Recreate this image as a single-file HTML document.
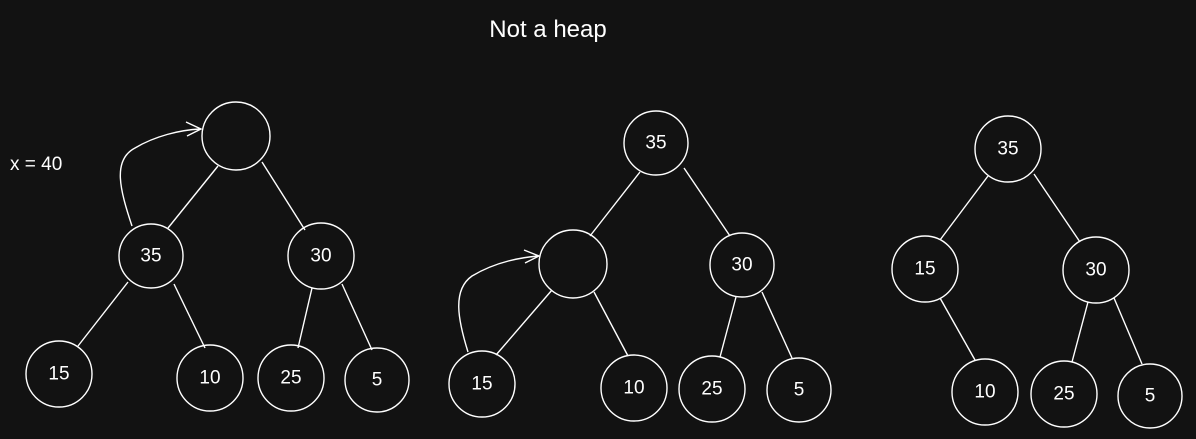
<!DOCTYPE html>
<html><head><meta charset="utf-8"><style>
html,body{margin:0;padding:0;background:#121212;}
svg{display:block}
text{font-family:"Liberation Sans",sans-serif;fill:#fff;}
</style></head><body>
<svg width="1196" height="439" viewBox="0 0 1196 439" xmlns="http://www.w3.org/2000/svg">
<rect width="1196" height="439" fill="#121212"/>
<g stroke="#fff" stroke-width="1.4" fill="none">
<!-- tree 1 edges -->
<line x1="218" y1="166" x2="168" y2="228"/>
<line x1="262" y1="162" x2="305" y2="230"/>
<line x1="128" y1="282" x2="78" y2="346"/>
<line x1="174" y1="284" x2="205" y2="348"/>
<line x1="312" y1="288" x2="298" y2="348"/>
<line x1="342" y1="284" x2="372" y2="350"/>
<!-- tree 1 nodes -->
<circle cx="236" cy="136" r="34"/>
<circle cx="151" cy="256" r="32"/>
<circle cx="321" cy="256" r="33"/>
<circle cx="59" cy="374" r="33"/>
<circle cx="210" cy="378" r="33"/>
<circle cx="291" cy="378" r="33"/>
<circle cx="377" cy="380" r="32"/>
<!-- arrow 1 -->
<path d="M132 226 C120 190 112 160 135 148 C155 136 180 130 200 129"/>
<path d="M186 122 L201 129 L187 136"/>
<!-- tree 2 edges -->
<line x1="640" y1="172" x2="590" y2="236"/>
<line x1="684" y1="168" x2="730" y2="236"/>
<line x1="552" y1="290" x2="496" y2="355"/>
<line x1="594" y1="292" x2="628" y2="356"/>
<line x1="736" y1="297" x2="720" y2="357"/>
<line x1="762" y1="292" x2="792" y2="358"/>
<!-- tree 2 nodes -->
<circle cx="656" cy="143" r="32"/>
<circle cx="573" cy="264" r="34"/>
<circle cx="742" cy="265" r="32"/>
<circle cx="482" cy="384" r="33"/>
<circle cx="634" cy="388" r="33"/>
<circle cx="712" cy="389" r="33"/>
<circle cx="799" cy="390" r="32"/>
<!-- arrow 2 -->
<path d="M468 352 C458 320 452 290 472 276 C492 264 515 258 538 256"/>
<path d="M524 250 L539 256 L525 263"/>
<!-- tree 3 edges -->
<line x1="988" y1="176" x2="940" y2="240"/>
<line x1="1034" y1="174" x2="1080" y2="242"/>
<line x1="940" y1="298" x2="975" y2="360"/>
<line x1="1088" y1="302" x2="1072" y2="362"/>
<line x1="1114" y1="298" x2="1142" y2="364"/>
<!-- tree 3 nodes -->
<circle cx="1008" cy="149" r="33"/>
<circle cx="925" cy="269" r="33"/>
<circle cx="1096" cy="270" r="33"/>
<circle cx="985" cy="392" r="33"/>
<circle cx="1064" cy="394" r="33"/>
<circle cx="1150" cy="396" r="32"/>
</g>
<g font-size="19" text-anchor="middle" dominant-baseline="central">
<text x="151" y="256">35</text>
<text x="321" y="256">30</text>
<text x="59" y="374">15</text>
<text x="210" y="378">10</text>
<text x="291" y="378">25</text>
<text x="377" y="380">5</text>
<text x="656" y="143">35</text>
<text x="742" y="265">30</text>
<text x="482" y="384">15</text>
<text x="634" y="388">10</text>
<text x="712" y="389">25</text>
<text x="799" y="390">5</text>
<text x="1008" y="149">35</text>
<text x="925" y="269">15</text>
<text x="1096" y="270">30</text>
<text x="985" y="392">10</text>
<text x="1064" y="394">25</text>
<text x="1150" y="396">5</text>
</g>
<text x="548" y="37" font-size="24" text-anchor="middle">Not a heap</text>
<text x="10" y="170" font-size="19">x = 40</text>
</svg>
</body></html>
